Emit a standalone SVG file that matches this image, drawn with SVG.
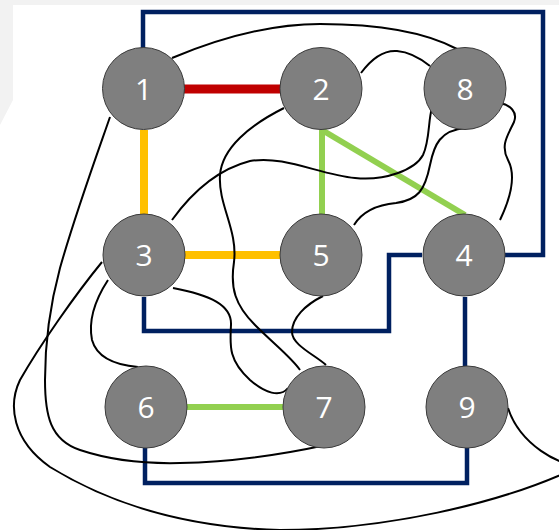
<svg xmlns="http://www.w3.org/2000/svg" width="559" height="530" viewBox="0 0 559 530">
<style>
.node circle{fill:#7f7f7f;stroke:#3a3a3a;stroke-width:1}
.node text{fill:#ffffff;font-family:"Open Sans","Liberation Sans",sans-serif;font-size:30px;text-anchor:middle}
.blk{fill:none;stroke:#000;stroke-width:2}
.navy{fill:none;stroke:#002060;stroke-width:4.5}
.red{stroke:#c00000;stroke-width:9}
.org{stroke:#ffc000;stroke-width:8}
.grn{stroke:#92d050;stroke-width:6}
</style>
<rect width="559" height="530" fill="#ffffff"/>
<path d="M0,0 H559 V5 H13 V100 L0,125 Z" fill="#f2f2f2"/>
<g id="connectors">
<path class="navy" d="M143,48 V12 H543 V255 H505"/>
<path class="navy" d="M144,297 V331 H389 V255 H422"/>
<path class="navy" d="M465,297 V366"/>
<path class="navy" d="M145,448 V483 H467 V448"/>
<path class="red" d="M184,89 H280"/>
<path class="org" d="M144,130 V214"/>
<path class="org" d="M185,255 H280"/>
<path class="grn" d="M322,130 V214"/>
<path class="grn" d="M322,130 L465,215"/>
<path class="grn" d="M187,407 H283"/>
<path class="blk" d="M172,58 C215,40 265,24 320,24 C380,24 425,32 457,49"/>
<path class="blk" d="M361,73 C372,58 383,50 397,51 C410,52 420,58 430,66"/>
<path class="blk" d="M110,117 C95,160 75,215 60,268 C50,305 45,340 45,380 C45,415 50,440 80,450 C110,460 140,464 180,463 C230,462 280,455 326,445"/>
<path class="blk" d="M102,262 C75,295 40,345 20,380 C8,405 12,440 50,467 C120,510 200,528 280,530 C380,530 500,505 580,466 C560,466 520,445 508,408"/>
<path class="blk" d="M108,280 C95,300 88,320 92,340 C97,358 115,365 138,367"/>
<path class="blk" d="M173,288 C210,295 232,305 231,325 C230,345 228,360 250,380 C265,393 280,398 288,388"/>
<path class="blk" d="M284,108 C250,125 222,148 220,175 C218,205 238,230 234,262 C230,288 235,305 255,325 C275,345 292,358 300,370"/>
<path class="blk" d="M172,220 C190,195 215,170 250,161 C285,155 320,175 355,178 C385,181 415,170 423,155 C430,140 428,120 432,108"/>
<path class="blk" d="M354,225 C362,212 375,205 396,203 C418,200 425,190 430,165 C434,145 440,130 466,128"/>
<path class="blk" d="M500,103 C510,105 518,112 514,122 C508,135 500,145 508,160 C516,175 512,195 500,220"/>
<path class="blk" d="M323,296 C305,305 292,318 292,332 C292,345 315,355 326,365"/>
</g>
<g id="n1" class="node"><circle cx="143.5" cy="88.5" r="41"/><text x="143.5" y="100">1</text></g>
<g id="n2" class="node"><circle cx="321" cy="88.5" r="41"/><text x="321" y="100">2</text></g>
<g id="n8" class="node"><circle cx="465" cy="88.5" r="41"/><text x="465" y="100">8</text></g>
<g id="n3" class="node"><circle cx="144" cy="255" r="41"/><text x="144" y="266">3</text></g>
<g id="n5" class="node"><circle cx="321" cy="255" r="41"/><text x="321" y="266">5</text></g>
<g id="n4" class="node"><circle cx="464" cy="255" r="41"/><text x="464" y="266">4</text></g>
<g id="n6" class="node"><circle cx="146" cy="407" r="41"/><text x="146" y="418">6</text></g>
<g id="n7" class="node"><circle cx="324" cy="407" r="41"/><text x="324" y="418">7</text></g>
<g id="n9" class="node"><circle cx="467" cy="407" r="41"/><text x="467" y="418">9</text></g>
</svg>
